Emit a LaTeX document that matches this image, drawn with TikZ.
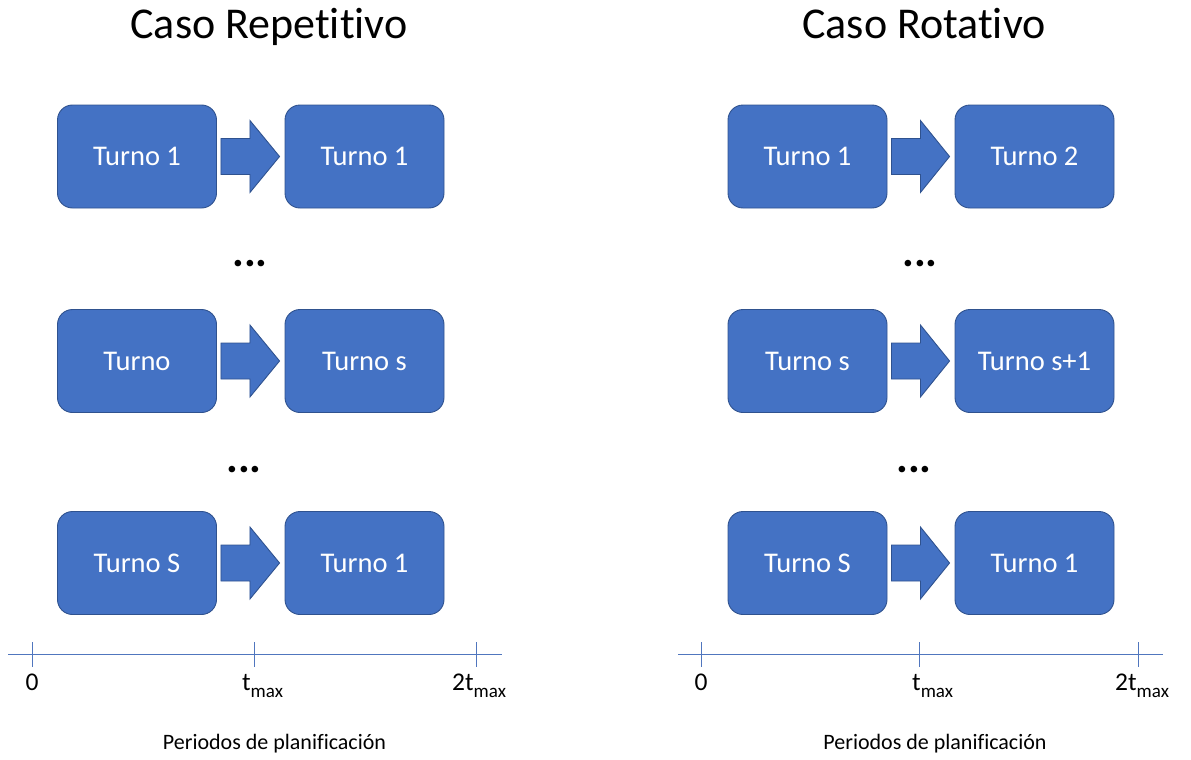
\documentclass[tikz,border=0pt]{standalone}
\usepackage{fontspec}
\setmainfont[Ligatures=NoCommon,Contextuals=NoAlternate]{Carlito}
\usetikzlibrary{calc}
\definecolor{boxfill}{RGB}{68,114,196}
\definecolor{boxline}{RGB}{47,82,143}
\definecolor{axisline}{RGB}{80,118,190}
\tikzset{
  turno/.style={draw=boxline, line width=0.9pt, fill=boxfill, rounded corners=15pt,
    minimum width=159pt, minimum height=103pt, inner sep=0pt, text=white,
    font=\fontsize{28.5}{32}\selectfont},
  blockarrow/.style={draw=boxline, line width=0.9pt, fill=boxfill, line join=miter},
  dots/.style={anchor=base, inner sep=0pt, font=\fontsize{44}{48}\selectfont\bfseries},
  title/.style={anchor=base, inner sep=0pt, font=\fontsize{44}{50}\selectfont},
  axislabel/.style={anchor=base west, inner sep=0pt, font=\fontsize{25.5}{28}\selectfont},
  caption/.style={anchor=base, inner sep=0pt, font=\fontsize{22}{24}\selectfont},
  axis/.style={draw=axisline, line width=0.9pt}
}
\newcommand{\tmaxlabel}{t\raisebox{-7pt}{\fontsize{19}{19}\selectfont max}}
\begin{document}
\begin{tikzpicture}[x=1pt, y=-1pt]
\useasboundingbox (0,0) rectangle (1191,760);

% titles
\node[title] (t1) at (269,39) {Caso Repetitivo};
\node[title] (t2) at (924,39) {Caso Rotativo};

% left boxes
\node[turno] (l1a) at (137,156.5) {Turno 1};
\node[turno] (l1b) at (364.5,156.5) {Turno 1};
\node[turno] (l2a) at (137,361) {Turno};
\node[turno] (l2b) at (364.5,361) {Turno s};
\node[turno] (l3a) at (137,563) {Turno S};
\node[turno] (l3b) at (364.5,563) {Turno 1};

% right boxes
\node[turno] (r1a) at (807.5,156.5) {Turno 1};
\node[turno] (r1b) at (1034.5,156.5) {Turno 2};
\node[turno] (r2a) at (807.5,361) {Turno s};
\node[turno] (r2b) at (1034.5,361) {Turno s+1};
\node[turno] (r3a) at (807.5,563) {Turno S};
\node[turno] (r3b) at (1034.5,563) {Turno 1};

% block arrows
\foreach \a/\b in {l1a/l1b,l2a/l2b,l3a/l3b,r1a/r1b,r2a/r2b,r3a/r3b}{
  \draw[blockarrow] ($(\a.east)+(4,-18)$) -- ($(\a.east)+(33,-18)$) -- ($(\a.east)+(33,-36)$)
    -- ($(\b.west)+(-5,0)$) -- ($(\a.east)+(33,36)$) -- ($(\a.east)+(33,18)$)
    -- ($(\a.east)+(4,18)$) -- cycle;
}

% dots
\node[dots] (d1) at (250,266.5) {...};
\node[dots] (d2) at (244,472.5) {...};
\node[dots] (d3) at (920,266.5) {...};
\node[dots] (d4) at (914,472.5) {...};

% left axis
\coordinate (la0) at (8,654);
\coordinate (la1) at (502,654);
\draw[axis] (la0) -- (la1);
\foreach \x in {32,254,476}{
  \coordinate (lt\x a) at (\x,642);
  \coordinate (lt\x b) at (\x,667);
  \draw[axis] (lt\x a) -- (lt\x b);
}
\node[anchor=base, inner sep=0pt, font=\fontsize{25.5}{28}\selectfont] (l0) at (32,690) {0};
\node[axislabel] (ltm) at (242,690) {\tmaxlabel};
\node[axislabel] (l2tm) at (452,690) {2\tmaxlabel};
\node[caption] (lcap) at (274.5,749) {Periodos de planificación};

% right axis
\coordinate (ra0) at (678,654);
\coordinate (ra1) at (1163,654);
\draw[axis] (ra0) -- (ra1);
\foreach \x in {701,919,1138}{
  \coordinate (rt\x a) at (\x,642);
  \coordinate (rt\x b) at (\x,667);
  \draw[axis] (rt\x a) -- (rt\x b);
}
\node[anchor=base, inner sep=0pt, font=\fontsize{25.5}{28}\selectfont] (r0) at (701,690) {0};
\node[axislabel] (rtm) at (912,690) {\tmaxlabel};
\node[axislabel] (r2tm) at (1115,690) {2\tmaxlabel};
\node[caption] (rcap) at (935,749) {Periodos de planificación};
\end{tikzpicture}
\end{document}
